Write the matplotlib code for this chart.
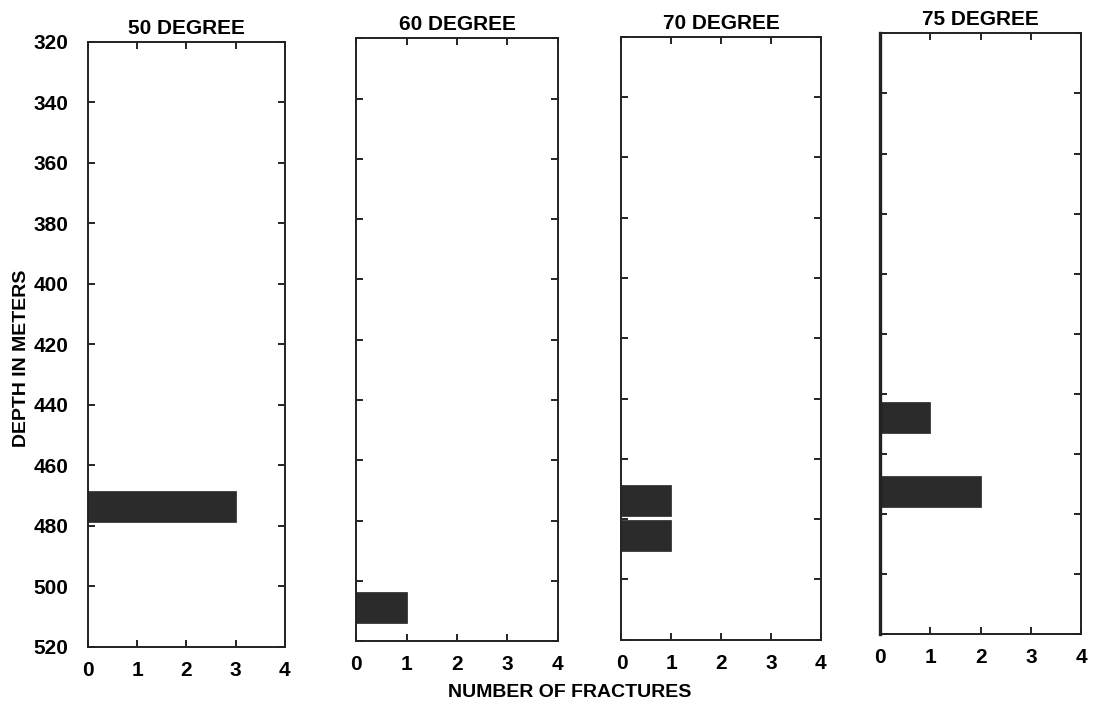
import matplotlib.pyplot as plt

# fracture counts per depth bin, one panel per dip angle
titles = ["50 DEGREE", "60 DEGREE", "70 DEGREE", "75 DEGREE"]
depths_50 = [473.5]
counts_50 = [3]
depths_60 = [509]
counts_60 = [1]
depths_70 = [473.8, 485.5]
counts_70 = [1, 1]
depths_75 = [448, 472.5]
counts_75 = [1, 2]

depths = [depths_50, depths_60, depths_70, depths_75]
counts = [counts_50, counts_60, counts_70, counts_75]

y_ticks = [320, 340, 360, 380, 400, 420, 440, 460, 480, 500, 520]
x_ticks = [0, 1, 2, 3, 4]

plt.rcParams["font.family"] = ["Liberation Sans", "DejaVu Sans"]
plt.rcParams["font.weight"] = "bold"

fig = plt.figure(figsize=(11, 7.1), dpi=100)

# [left, bottom, width, height] for each panel (page was scanned slightly tilted)
boxes = [
    [0.080, 0.089, 0.179, 0.852],
    [0.324, 0.097, 0.183, 0.849],
    [0.565, 0.099, 0.181, 0.849],
    [0.800, 0.107, 0.183, 0.846],
]

for i, box in enumerate(boxes):
    ax = fig.add_axes(box)
    ax.barh(depths[i], counts[i], height=10.3, left=0, color="#2b2b2b",
            edgecolor="#3a3a3a", linewidth=0.6)
    ax.set_xlim(0, 4)
    ax.set_ylim(520, 320)
    ax.set_xticks(x_ticks)
    ax.set_yticks(y_ticks)
    ax.tick_params(axis="both", direction="in", length=5, width=1.2,
                   top=True, right=True, labelsize=15)
    ax.tick_params(axis="x", pad=10)
    ax.tick_params(axis="y", pad=14)
    for s in ax.spines.values():
        s.set_linewidth(1.4)
        s.set_color("#222222")
    if i == 3:
        ax.spines["left"].set_linewidth(2.4)
    if i > 0:
        ax.set_yticklabels([])
    ax.set_title(titles[i], fontsize=15, fontweight="bold", pad=6)

fig.text(0.518, 0.025, "NUMBER OF FRACTURES", ha="center", va="center",
         fontsize=14, fontweight="bold")
fig.text(0.020, 0.495, "DEPTH IN METERS", ha="center", va="center",
         rotation=90, fontsize=14, fontweight="bold")

fig.savefig("out.png", dpi=100, facecolor="white")
